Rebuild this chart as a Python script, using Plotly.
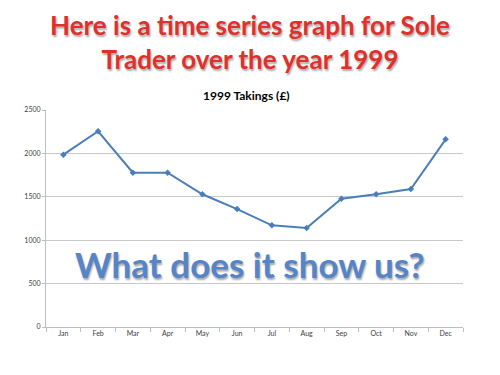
import plotly.graph_objects as go

months = ["Jan", "Feb", "Mar", "Apr", "May", "Jun", "Jul", "Aug", "Sep", "Oct", "Nov", "Dec"]
takings = [1985, 2255, 1778, 1778, 1529, 1359, 1171, 1140, 1478, 1529, 1590, 2162]
y_ticks = [0, 500, 1000, 1500, 2000, 2500]

fig = go.Figure()
fig.add_trace(go.Scatter(
    x=months, y=takings, mode="lines+markers",
    line=dict(color="#4A7EBB", width=2),
    marker=dict(symbol="diamond", size=5, color="#4A7EBB"),
    showlegend=False,
))

fig.update_layout(
    width=500, height=375,
    margin=dict(l=46, r=37, t=110, b=48),
    paper_bgcolor="white", plot_bgcolor="white",
    font=dict(family="Lato, sans-serif", color="#404040"),
    xaxis=dict(
        type="category", range=[-0.5, 11.5],
        tickson="boundaries", ticks="outside", ticklen=4, tickcolor="#BFBFBF",
        showline=True, linecolor="#BFBFBF", linewidth=1,
        showgrid=False, tickfont=dict(size=7, color="#404040"),
    ),
    yaxis=dict(
        range=[0, 2500], tickvals=y_ticks,
        showgrid=True, gridcolor="#C8C8C8", gridwidth=1,
        showline=True, linecolor="#BFBFBF", linewidth=1,
        ticks="outside", ticklen=3, tickcolor="#BFBFBF",
        zeroline=False, tickfont=dict(size=7, color="#404040"),
    ),
    annotations=[
        dict(text="<b>Here is a time series graph for Sole<br>Trader over the year 1999</b>",
             xref="paper", yref="paper", x=0.5 - 4.5/417, y=1 + (110-42)/217,
             xanchor="center", yanchor="middle", showarrow=False,
             font=dict(family="Lato, sans-serif", size=26, color="#E0302C",
                       shadow="1px 2px 2px rgba(0,0,0,0.35)"),
             align="center"),
        dict(text="<b>1999 Takings (£)</b>",
             xref="paper", yref="paper", x=0.5 - 8/417, y=1 + (110-95)/217,
             xanchor="center", yanchor="middle", showarrow=False,
             font=dict(family="Lato, sans-serif", size=12, color="black")),
        dict(text="<b>What does it show us?</b>",
             xref="paper", yref="paper", x=0.5 - 4.5/417, y=(327-264)/217,
             xanchor="center", yanchor="middle", showarrow=False,
             font=dict(family="Lato, sans-serif", size=35, color="#5585C8",
                       shadow="1px 2px 2px rgba(0,0,0,0.35)")),
    ],
)

fig.write_html("out.html")
